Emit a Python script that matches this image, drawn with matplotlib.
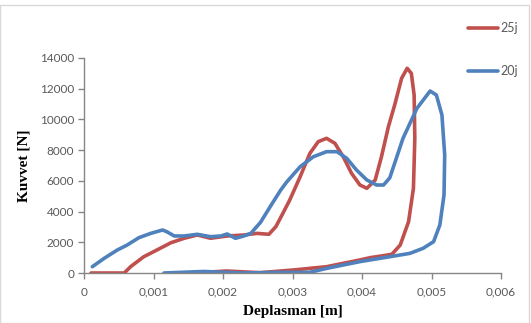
import matplotlib
matplotlib.use("Agg")
import matplotlib.pyplot as plt
from matplotlib.ticker import FuncFormatter
from matplotlib.patches import Rectangle

# --- data (path order: loading then unloading) ---
x_25j = [0.0001, 0.00058, 0.00067, 0.00086, 0.00105, 0.00125, 0.00144, 0.00163,
         0.00182, 0.00206, 0.0023, 0.00249, 0.00266, 0.00276, 0.00284, 0.00296,
         0.00311, 0.00325, 0.00337, 0.00349, 0.00361, 0.00373, 0.00385, 0.00397,
         0.00407, 0.00419, 0.00428, 0.00438, 0.00447, 0.00457, 0.00465, 0.00471,
         0.00475, 0.00476, 0.00474, 0.00467, 0.00455, 0.00443, 0.00431, 0.00412,
         0.00397, 0.00349, 0.00301, 0.00253, 0.00205, 0.00167, 0.00158]
y_25j = [0, 0, 410, 1060, 1500, 1970, 2260, 2475,
         2260, 2410, 2475, 2580, 2520, 3015, 3700, 4750,
         6270, 7790, 8550, 8770, 8445, 7570, 6490, 5730,
         5515, 6055, 7570, 9530, 10940, 12680, 13330, 13000,
         11590, 8770, 5515, 3340, 1820, 1220, 1130, 1000,
         850, 410, 195, 20, 130, 30, 0]

x_20j = [0.00012, 0.00029, 0.00048, 0.00062, 0.00079, 0.00096, 0.00113, 0.00119,
         0.0013, 0.00144, 0.00163, 0.00182, 0.00197, 0.00206, 0.00218, 0.0023,
         0.0024, 0.00254, 0.00269, 0.00283, 0.00292, 0.00311, 0.0033, 0.00349,
         0.00364, 0.00378, 0.00392, 0.00407, 0.00421, 0.00431, 0.0044, 0.00459,
         0.00479, 0.00498, 0.00507, 0.00515, 0.00519, 0.00518, 0.00512, 0.00503,
         0.00488, 0.00469, 0.0044, 0.00397, 0.00349, 0.00325, 0.00277, 0.00229,
         0.00172, 0.00115]
y_20j = [410, 955, 1500, 1820, 2300, 2580, 2800, 2690,
         2410, 2410, 2520, 2365, 2410, 2540, 2260, 2410,
         2580, 3300, 4400, 5400, 5945, 6920, 7570, 7900,
         7900, 7470, 6710, 6055, 5730, 5730, 6200, 8770,
         10720, 11850, 11590, 10290, 7680, 5080, 3125, 2040,
         1610, 1280, 1060, 740, 300, 45, 40, 0,
         100, 0]

x_ticks = [0, 0.001, 0.002, 0.003, 0.004, 0.005, 0.006]
y_ticks = [0, 2000, 4000, 6000, 8000, 10000, 12000, 14000]

red = "#C0504D"
blue = "#4F81BD"
grey_txt = "#595959"
grey_ax = "#868686"

plt.rcParams["font.family"] = ["Lato", "DejaVu Sans"]

fig = plt.figure(figsize=(5.31, 3.23), dpi=100)
ax = fig.add_axes([84 / 531, 1 - 273 / 323, 417 / 531, 215 / 323])

ax.plot(x_25j, y_25j, color=red, lw=2.6, label="25j",
        solid_joinstyle="round", solid_capstyle="round")
ax.plot(x_20j, y_20j, color=blue, lw=2.6, label="20j",
        solid_joinstyle="round", solid_capstyle="round")

ax.set_xlim(0, 0.006)
ax.set_ylim(0, 14000)
ax.set_xticks(x_ticks)
ax.set_yticks(y_ticks)
ax.xaxis.set_major_formatter(FuncFormatter(
    lambda v, p: "0" if v == 0 else f"{v:.3f}".replace(".", ",")))

for s in ("top", "right"):
    ax.spines[s].set_visible(False)
for s in ("left", "bottom"):
    ax.spines[s].set_color(grey_ax)
    ax.spines[s].set_linewidth(1.0)
ax.tick_params(axis="both", colors=grey_ax, labelcolor=grey_txt,
               labelsize=8.5, length=4, width=1.0, direction="out")
ax.tick_params(axis="x", pad=6)
ax.tick_params(axis="y", pad=3)

ax.set_xlabel("Deplasman [m]", family="Liberation Serif", fontweight="bold",
              fontsize=11, labelpad=5)
ax.set_ylabel("Kuvvet [N]", family="Liberation Serif", fontweight="bold",
              fontsize=11, labelpad=7)

ax.legend(loc="upper left", bbox_to_anchor=(463 / 531, 1 - 17 / 323),
          bbox_transform=fig.transFigure, frameon=False, fontsize=9,
          labelcolor=grey_txt, handlelength=2.4, handletextpad=0.2,
          labelspacing=2.5, borderaxespad=0)

fig.patches.append(Rectangle((0.0, 0.0), 0.997, 0.985, transform=fig.transFigure,
                             fill=False, edgecolor="#D9D9D9", lw=1.0))

fig.savefig("out.png", dpi=100)
